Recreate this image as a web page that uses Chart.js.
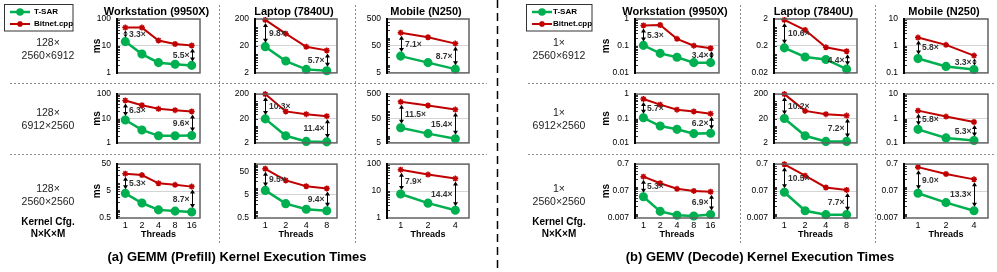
<!DOCTYPE html>
<html>
<head>
<meta charset="utf-8">
<script src="https://cdn.jsdelivr.net/npm/chart.js@4.4.1/dist/chart.umd.min.js"></script>
<style>
  body { margin: 0; background: #fff; font-family: 'Liberation Sans', Arial, sans-serif; }
  #page { position: relative; width: 997px; height: 272px; overflow: hidden; }
  #page canvas { position: absolute; }
  .txt { position: absolute; transform: translateX(-50%); white-space: nowrap; text-align: center; color: #222; }
</style>
</head>
<body>
<div id="page">
  <canvas id="deco" width="997" height="272" style="left:0;top:0"></canvas>
</div>
<script>
// ---- data (ms) ----
const devices = ['Workstation (9950X)', 'Laptop (7840U)', 'Mobile (N250)'];
const wsThreads = ['1', '2', '4', '8', '16'];
const laptopThreads = ['1', '2', '4', '8'];
const mobileThreads = ['1', '2', '4'];

const gemmConfigs = [['128×', '2560×6912'], ['128×', '6912×2560'], ['128×', '2560×2560']];
const gemvConfigs = [['1×', '2560×6912'], ['1×', '6912×2560'], ['1×', '2560×2560']];

// (a) GEMM (Prefill), one inner array per kernel config
const gemmWsTsar = [[14.5, 5.0, 2.4, 2.1, 1.9], [8.7, 3.4, 1.95, 1.95, 2.0], [4.1, 1.8, 1.0, 0.9, 0.83]];
const gemmWsBitnet = [[48, 48, 16, 11.8, 10.4], [55, 35, 25, 22, 19.5], [22, 19.6, 9.7, 8.5, 7.3]];
const gemmLaptopTsar = [[18.8, 5.5, 2.7, 2.4], [19.3, 3.9, 2.3, 2.2], [7.9, 2.1, 1.2, 1.03]];
const gemmLaptopBitnet = [[185, 57, 18.7, 13.7], [200, 39, 30, 25], [69, 21.5, 12, 9.6]];
const gemmMobileTsar = [[21, 12, 6.9], [21, 12, 7.4], [7.8, 3.55, 1.95]];
const gemmMobileBitnet = [[155, 105, 61], [242, 171, 116], [62, 41, 29]];

// (b) GEMV (Decode)
const gemvWsTsar = [[0.105, 0.053, 0.038, 0.024, 0.024], [0.107, 0.049, 0.036, 0.024, 0.025], [0.043, 0.0123, 0.0088, 0.0083, 0.0095]];
const gemvWsBitnet = [[0.58, 0.6, 0.184, 0.102, 0.082], [0.63, 0.37, 0.23, 0.195, 0.158], [0.24, 0.136, 0.085, 0.071, 0.066]];
const gemvLaptopTsar = [[0.17, 0.078, 0.063, 0.0275], [20, 3.9, 2.3, 2.3], [0.063, 0.013, 0.0093, 0.0093]];
const gemvLaptopBitnet = [[1.85, 0.78, 0.178, 0.127], [200, 41, 30, 26.3], [0.69, 0.26, 0.095, 0.077]];
const gemvMobileTsar = [[0.34, 0.174, 0.133], [0.36, 0.16, 0.126], [0.058, 0.026, 0.013]];
const gemvMobileBitnet = [[2.05, 1.1, 0.44], [2.1, 1.2, 0.72], [0.54, 0.30, 0.19]];

// y axis [min, max] per device, per row
const gemmRanges = [[[1, 100], [1, 100], [0.5, 50]], [[2, 200], [2, 200], [0.5, 110]], [[5, 500], [5, 500], [1, 100]]];
const gemvRanges = [[[0.01, 1], [0.01, 1], [0.007, 0.7]], [[0.02, 2], [2, 200], [0.007, 0.7]], [[0.1, 10], [0.1, 10], [0.007, 0.7]]];
const gemmTicks = [[['1', '10', '100'], ['1', '10', '100'], ['0.5', '5', '50']],
                   [['2', '20', '200'], ['2', '20', '200'], ['0.5', '5', '50']],
                   [['5', '50', '500'], ['5', '50', '500'], ['1', '10', '100']]];
const gemvTicks = [[['0.01', '0.1', '1'], ['0.01', '0.1', '1'], ['0.007', '0.07', '0.7']],
                   [['0.02', '0.2', '2'], ['2', '20', '200'], ['0.007', '0.07', '0.7']],
                   [['0.1', '1', '10'], ['0.1', '1', '10'], ['0.007', '0.07', '0.7']]];

// speedup labels at first / last thread count
const gemmSpeedups = [[['3.3×', '5.5×'], ['6.3×', '9.6×'], ['5.3×', '8.7×']],
                      [['9.8×', '5.7×'], ['10.3×', '11.4×'], ['9.5×', '9.4×']],
                      [['7.1×', '8.7×'], ['11.5×', '15.4×'], ['7.9×', '14.4×']]];
const gemvSpeedups = [[['5.3×', '3.4×'], ['5.7×', '6.2×'], ['5.3×', '6.9×']],
                      [['10.6×', '4.4×'], ['10.2×', '7.2×'], ['10.5×', '7.7×']],
                      [['5.8×', '3.3×'], ['5.8×', '5.3×'], ['9.0×', '13.3×']]];

// ---- layout ----
const GREEN = '#00b050', RED = '#c00000';
const FONT = "'Liberation Sans', Arial, sans-serif";
const plotLeft = [[117, 255, 387], [635, 774, 904]];
const plotWidth = [[83, 82, 82], [84, 83, 84]];
const rowTop = [19, 89, 159];
const rowH = 59;
const yTitlePad = [19, 10];
const page = document.getElementById('page');

const decor = {
  id: 'decor',
  afterDatasetsDraw(chart, args, o) {
    const { ctx, chartArea: a, scales: { x, y } } = chart;
    ctx.save();
    // minor ticks on the log axis
    ctx.strokeStyle = '#333';
    ctx.lineWidth = 1;
    const lo = Math.floor(Math.log10(y.min)), hi = Math.ceil(Math.log10(y.max));
    for (let e = lo; e <= hi; e++) {
      for (let k = 1; k <= 9; k++) {
        const v = k * Math.pow(10, e);
        if (v <= y.min * 1.001 || v >= y.max * 0.999) continue;
        const py = Math.round(y.getPixelForValue(v)) + 0.5;
        ctx.beginPath();
        ctx.moveTo(a.left, py);
        ctx.lineTo(a.left + 3, py);
        ctx.stroke();
      }
    }
    // frame
    ctx.strokeStyle = '#606060';
    ctx.lineWidth = 1.5;
    ctx.strokeRect(a.left, a.top, a.right - a.left, a.bottom - a.top);
    ctx.strokeStyle = '#000';
    ctx.lineWidth = 2;
    ctx.beginPath();
    ctx.moveTo(a.left, a.top - 1);
    ctx.lineTo(a.left, a.bottom + 1);
    ctx.stroke();
    // speedup arrows
    const ts = chart.data.datasets[0].data, bn = chart.data.datasets[1].data;
    const n = ts.length;
    ctx.fillStyle = '#000';
    ctx.strokeStyle = '#000';
    ctx.lineWidth = 1;
    [0, n - 1].forEach((i, j) => {
      const px = Math.round(x.getPixelForValue(i)) + 0.5;
      const y1 = y.getPixelForValue(bn[i]) + 3;
      const y2 = y.getPixelForValue(ts[i]) - 4;
      ctx.beginPath();
      ctx.moveTo(px, y1 + 3);
      ctx.lineTo(px, y2 - 3);
      ctx.stroke();
      ctx.beginPath();
      ctx.moveTo(px, y1); ctx.lineTo(px - 2.5, y1 + 4); ctx.lineTo(px + 2.5, y1 + 4); ctx.closePath();
      ctx.moveTo(px, y2); ctx.lineTo(px - 2.5, y2 - 4); ctx.lineTo(px + 2.5, y2 - 4); ctx.closePath();
      ctx.fill();
      ctx.font = 'bold 8.5px ' + FONT;
      ctx.fillStyle = '#333';
      ctx.textBaseline = 'middle';
      ctx.textAlign = j === 0 ? 'left' : 'right';
      ctx.fillText(o.speedup[j], j === 0 ? px + 3.5 : px - 3, (y1 + y2) / 2 + 0.5);
      ctx.fillStyle = '#000';
    });
    // column title
    if (o.title) {
      ctx.font = 'bold 11px ' + FONT;
      ctx.fillStyle = '#000';
      ctx.textAlign = 'center';
      ctx.textBaseline = 'middle';
      ctx.fillText(o.title, (a.left + a.right) / 2 - 2, a.top - 7);
    }
    ctx.restore();
  }
};

function makeChart(panel, col, row, labels, tsar, bitnet, range, tickLabels, speedup) {
  const left = plotLeft[panel][col], w = plotWidth[panel][col];
  const padTop = row === 0 ? 19 : 6;
  const padBot = row === 2 ? 30 : 6;
  const padRight = 22;
  const cv = document.createElement('canvas');
  cv.width = w + 45 + padRight;
  cv.height = rowH + padTop + padBot;
  cv.style.left = (left - 45) + 'px';
  cv.style.top = (rowTop[row] - padTop) + 'px';
  page.appendChild(cv);
  const tickVals = tickLabels.map(Number);

  return new Chart(cv, {
    type: 'line',
    data: {
      labels: labels,
      datasets: [{
        label: 'T-SAR',
        data: tsar,
        borderColor: GREEN,
        backgroundColor: GREEN,
        borderWidth: 2.5,
        pointRadius: 3.3,
        pointStyle: 'circle',
      }, {
        label: 'Bitnet.cpp',
        data: bitnet,
        borderColor: RED,
        backgroundColor: RED,
        borderWidth: 2,
        pointRadius: 3,
        pointBorderWidth: 1.5,
        pointStyle: 'star',
      }]
    },
    options: {
      responsive: false,
      animation: false,
      devicePixelRatio: 1,
      clip: false,
      layout: { padding: { left: 0, right: padRight, top: padTop, bottom: row === 2 ? 0 : padBot } },
      plugins: {
        legend: { display: false },
        tooltip: { enabled: false },
        decor: { speedup: speedup, title: row === 0 ? devices[col] : null }
      },
      scales: {
        x: {
          display: row === 2,
          offset: true,
          grid: { display: false, drawTicks: false },
          border: { display: false },
          ticks: { font: { size: 9, family: FONT }, color: '#000', padding: 2, maxRotation: 0, autoSkip: false },
          title: { display: true, text: 'Threads', color: '#000', font: { size: 9, weight: 'bold', family: FONT }, padding: { top: 0, bottom: 7.6 } },
          afterFit: s => { s.height = row === 2 ? 30 : 0; }
        },
        y: {
          type: 'logarithmic',
          min: range[0],
          max: range[1],
          afterBuildTicks: s => { s.ticks = tickVals.map(v => ({ value: v })); },
          afterFit: s => { s.width = 45; },
          grid: {
            drawTicks: false,
            lineWidth: 1,
            color: c => (c.tick && c.tick.value === tickVals[1]) ? '#d4d4d4' : 'rgba(0,0,0,0)'
          },
          border: { display: false },
          ticks: { font: { size: 8.5, family: FONT }, color: '#000', padding: 6, callback: (v, i) => tickLabels[i] },
          title: { display: col === 0, text: 'ms', color: '#000', font: { size: 10, weight: 'bold', family: FONT }, padding: { top: yTitlePad[panel], bottom: 0 } }
        }
      }
    },
    plugins: [decor]
  });
}

const panels = [
  { threads: [wsThreads, laptopThreads, mobileThreads],
    tsar: [gemmWsTsar, gemmLaptopTsar, gemmMobileTsar],
    bitnet: [gemmWsBitnet, gemmLaptopBitnet, gemmMobileBitnet],
    ranges: gemmRanges, ticks: gemmTicks, speedups: gemmSpeedups },
  { threads: [wsThreads, laptopThreads, mobileThreads],
    tsar: [gemvWsTsar, gemvLaptopTsar, gemvMobileTsar],
    bitnet: [gemvWsBitnet, gemvLaptopBitnet, gemvMobileBitnet],
    ranges: gemvRanges, ticks: gemvTicks, speedups: gemvSpeedups }
];

panels.forEach((p, pi) => {
  for (let c = 0; c < 3; c++) {
    for (let r = 0; r < 3; r++) {
      makeChart(pi, c, r, p.threads[c], p.tsar[c][r], p.bitnet[c][r], p.ranges[c][r], p.ticks[c][r], p.speedups[c][r]);
    }
  }
});

// ---- html text: row labels, legend text, captions ----
function addText(txt, x, yc, size, bold, lh) {
  const d = document.createElement('div');
  d.className = 'txt';
  d.textContent = txt;
  d.style.left = x + 'px';
  d.style.top = (yc - lh / 2) + 'px';
  d.style.fontSize = size + 'px';
  d.style.lineHeight = lh + 'px';
  if (bold) { d.style.fontWeight = 'bold'; d.style.color = '#000'; }
  page.appendChild(d);
}
const rowLabelY = [[42, 54.5], [112, 124.5], [188, 200.5]];
[[gemmConfigs, 48], [gemvConfigs, 559]].forEach(([cfg, cx]) => {
  cfg.forEach((lines, r) => {
    addText(lines[0], cx, rowLabelY[r][0], 10.5, false, 12);
    addText(lines[1], cx, rowLabelY[r][1], 10.5, false, 12);
  });
  addText('Kernel Cfg.', cx, 222, 10, true, 12);
  addText('N×K×M', cx, 234, 10, true, 12);
});
addText('(a) GEMM (Prefill) Kernel Execution Times', 237, 257, 13, true, 16);
addText('(b) GEMV (Decode) Kernel Execution Times', 760, 257, 13, true, 16);

// legends
const legends = [{ x0: 4.5, x1: 73, lx: 10, tx: 34 }, { x0: 526.5, x1: 592, lx: 532, tx: 553 }];
legends.forEach(L => {
  [['T-SAR', 12], ['Bitnet.cpp', 24]].forEach(([s, yc]) => {
    const d = document.createElement('div');
    d.textContent = s;
    d.style.cssText = 'position:absolute;white-space:nowrap;font-weight:bold;font-size:8px;line-height:10px;color:#000;left:' + L.tx + 'px;top:' + (yc - 5) + 'px';
    page.appendChild(d);
  });
});

// ---- decoration canvas: separators and legend keys ----
const dc = document.getElementById('deco').getContext('2d');
dc.strokeStyle = '#8c8c8c';
dc.lineWidth = 1;
dc.setLineDash([2, 2]);
function seg(x1, y1, x2, y2) { dc.beginPath(); dc.moveTo(x1, y1); dc.lineTo(x2, y2); dc.stroke(); }
[83.5, 154.5].forEach(yy => { seg(10, yy, 487, yy); seg(528, yy, 995, yy); });
[219.5, 355.5, 740.5, 875.5].forEach(xx => seg(xx, 5, xx, 245));
dc.setLineDash([8, 5]);
dc.strokeStyle = '#000';
dc.lineWidth = 1.5;
seg(497.5, 0, 497.5, 272);
dc.setLineDash([]);
legends.forEach(L => {
  dc.strokeStyle = '#333';
  dc.lineWidth = 1;
  dc.strokeRect(L.x0, 4.5, L.x1 - L.x0, 26.5);
  [[GREEN, 12, 'circle', 2.5], [RED, 24, 'star', 2]].forEach(([col, yy, st, lw]) => {
    dc.strokeStyle = col;
    dc.fillStyle = col;
    dc.lineWidth = lw;
    seg(L.lx, yy, L.lx + 20, yy);
    dc.lineWidth = 1.5;
    Chart.helpers.drawPoint(dc, { pointStyle: st, radius: 3, borderWidth: 1.5 }, L.lx + 10, yy);
  });
});
</script>
</body>
</html>
